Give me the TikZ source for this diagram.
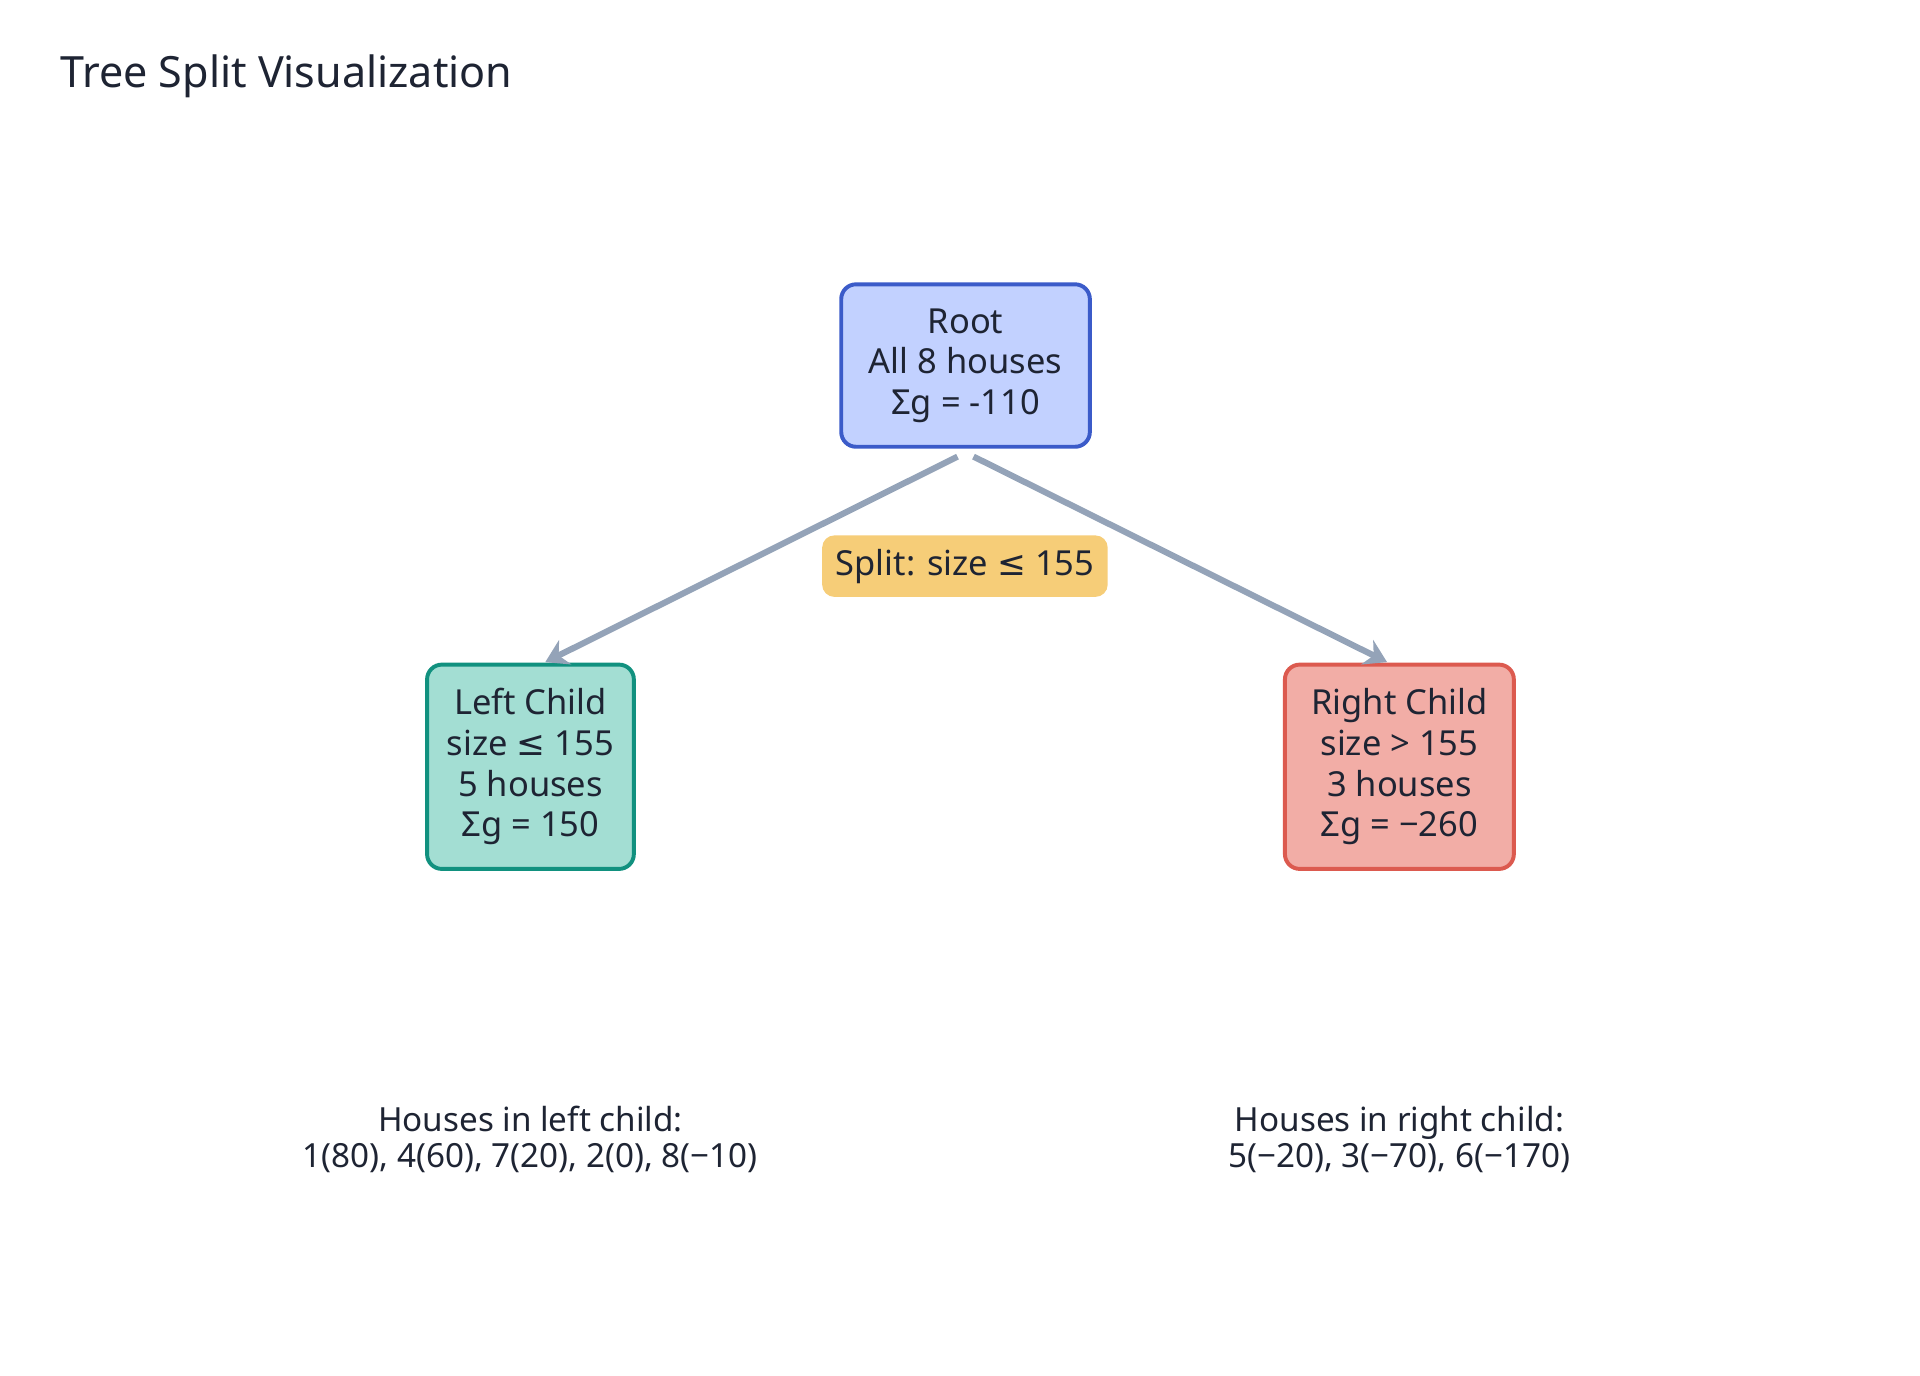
\documentclass[tikz,border=0pt]{standalone}
\usepackage{fontspec}
\setmainfont{Noto Sans}
\newfontfamily\symf{DejaVu Sans}
\newcommand{\myle}{{\symf ≤}}
\usetikzlibrary{arrows.meta}
\definecolor{txt}{HTML}{1E2433}
\definecolor{edge}{HTML}{94A3B8}
\begin{document}
\begin{tikzpicture}[x=0.5pt,y=-0.5pt,
  box/.style={draw, rounded corners=6pt, line width=1.6pt, align=center, text=txt, inner sep=0pt,
    font=\fontsize{14}{16.5}\selectfont},
  conn/.style={draw=edge, line width=2.5pt, -{Stealth[length=9pt,width=11pt]}},
  note/.style={align=center, text=txt, font=\fontsize{13.5}{14.5}\selectfont}]
\useasboundingbox (0,0) rectangle (1560,1118);
\node[anchor=west, text=txt, font=\fontsize{17.5}{20}\selectfont] (title) at (42,62) {Tree Split Visualization};
\node[box, fill={rgb,255:red,194;green,209;blue,255}, draw={rgb,255:red,59;green,91;blue,201},
  minimum width=101pt, minimum height=66pt] (root) at (784.5,297) {Root\\All 8 houses\\Σg = -110};
\node[box, fill={rgb,255:red,163;green,222;blue,211}, draw={rgb,255:red,17;green,145;blue,127},
  minimum width=84pt, minimum height=83pt] (left) at (431,623) {Left Child\\size \myle{} 155\\5 houses\\Σg = 150};
\node[box, fill={rgb,255:red,242;green,173;blue,166}, draw={rgb,255:red,220;green,90;blue,79},
  minimum width=93pt, minimum height=83pt] (right) at (1137,623) {Right Child\\size > 155\\3 houses\\Σg = −260};
\coordinate (s1) at (778,371);
\coordinate (s2) at (791,371);
\coordinate (e1) at (443,538);
\coordinate (e2) at (1127,538);
\draw[conn] (s1) -- (e1);
\draw[conn] (s2) -- (e2);
\node[fill={rgb,255:red,246;green,205;blue,120}, rounded corners=5pt, text=txt, minimum width=116pt, minimum height=25pt,
  font=\fontsize{14}{16}\selectfont] (split) at (784,460) {Split: size \myle{} 155};
\node[note] (ln) at (431,926) {Houses in left child:\\1(80), 4(60), 7(20), 2(0), 8(−10)};
\node[note] (rn) at (1137,926) {Houses in right child:\\5(−20), 3(−70), 6(−170)};
\end{tikzpicture}
\end{document}
